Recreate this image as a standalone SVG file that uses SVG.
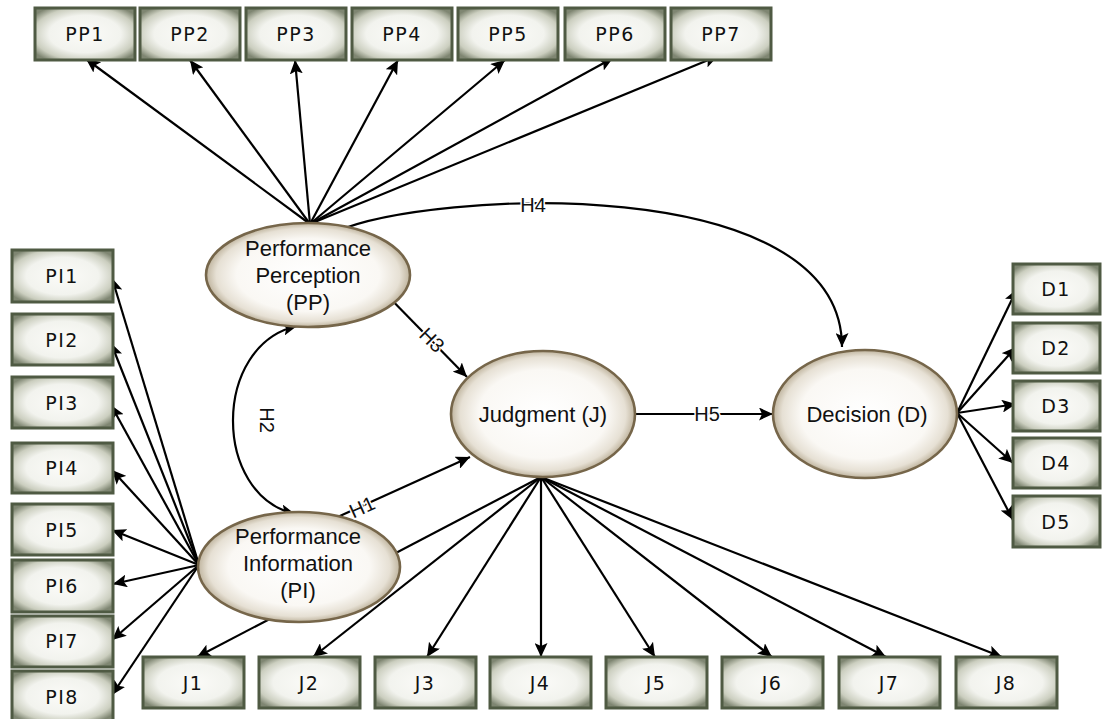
<svg xmlns="http://www.w3.org/2000/svg" width="1108" height="719" viewBox="0 0 1108 719">
<style>
.box{fill:url(#boxg);stroke:#4f5a43;stroke-width:3}
.bt{font-family:"DejaVu Sans",sans-serif;font-size:19px;fill:#111;text-anchor:middle;letter-spacing:1.5px}
.ell{fill:url(#ellg);stroke:#76664a;stroke-width:2.6}
.et{font-family:"Liberation Sans",Arial,sans-serif;font-size:22px;fill:#111;text-anchor:middle}
.ln{stroke:#000;stroke-width:2.2;fill:none;marker-end:url(#ah)}
.ht{font-family:"Liberation Sans",Arial,sans-serif;font-size:20px;fill:#111;text-anchor:middle;stroke:#fff;stroke-width:3;paint-order:stroke}
</style>
<defs>
<radialGradient id="boxg" cx="50%" cy="50%" r="62%">
<stop offset="0" stop-color="#fbfbf8"/>
<stop offset="0.58" stop-color="#f2f3ee"/>
<stop offset="0.83" stop-color="#cbcebf"/>
<stop offset="1" stop-color="#7f8672"/>
</radialGradient>
<radialGradient id="ellg" cx="50%" cy="50%" r="50%">
<stop offset="0" stop-color="#ffffff"/>
<stop offset="0.7" stop-color="#faf8f4"/>
<stop offset="0.9" stop-color="#e6e0d4"/>
<stop offset="1" stop-color="#bfb49e"/>
</radialGradient>
<marker id="ah" markerUnits="userSpaceOnUse" markerWidth="15" markerHeight="13" refX="14" refY="6.5" orient="auto-start-reverse">
<path d="M0,0 L14,6.5 L0,13 L3,6.5 z" fill="#000"/>
</marker>
</defs>

<g id="connectors">
<line class="ln" x1="310" y1="224" x2="86" y2="59"/>
<line class="ln" x1="310" y1="224" x2="190" y2="60"/>
<line class="ln" x1="310" y1="224" x2="295" y2="60"/>
<line class="ln" x1="310" y1="224" x2="398" y2="60"/>
<line class="ln" x1="310" y1="224" x2="505" y2="60"/>
<line class="ln" x1="310" y1="224" x2="613" y2="58"/>
<line class="ln" x1="310" y1="224" x2="718" y2="56"/>
<line class="ln" x1="199" y1="565" x2="112" y2="278"/>
<line class="ln" x1="199" y1="565" x2="111" y2="343"/>
<line class="ln" x1="199" y1="565" x2="111" y2="405"/>
<line class="ln" x1="199" y1="565" x2="112" y2="470"/>
<line class="ln" x1="199" y1="565" x2="112" y2="530"/>
<line class="ln" x1="199" y1="565" x2="113" y2="584"/>
<line class="ln" x1="199" y1="565" x2="112" y2="640"/>
<line class="ln" x1="199" y1="565" x2="112" y2="695"/>
<line class="ln" x1="541" y1="477" x2="197" y2="657"/>
<line class="ln" x1="541" y1="477" x2="313" y2="657"/>
<line class="ln" x1="541" y1="477" x2="427" y2="657"/>
<line class="ln" x1="541" y1="477" x2="541" y2="657"/>
<line class="ln" x1="541" y1="477" x2="655" y2="657"/>
<line class="ln" x1="541" y1="477" x2="772" y2="657"/>
<line class="ln" x1="541" y1="477" x2="886" y2="657"/>
<line class="ln" x1="541" y1="477" x2="1002" y2="657"/>
<line class="ln" x1="957" y1="413" x2="1017" y2="289"/>
<line class="ln" x1="957" y1="413" x2="1016" y2="347"/>
<line class="ln" x1="957" y1="413" x2="1016" y2="404"/>
<line class="ln" x1="957" y1="413" x2="1013" y2="463"/>
<line class="ln" x1="957" y1="413" x2="1013" y2="520"/>
<line class="ln" x1="320" y1="525" x2="470" y2="457"/>
<line class="ln" x1="380" y1="288" x2="467" y2="377"/>
<path class="ln" d="M297,326 C212,345 212,495 295,514" style="marker-start:url(#ah)"/>
<path class="ln" d="M335,232 C430,190 842,170 842,347"/>
<line class="ln" x1="635" y1="414" x2="773" y2="414"/>
</g>

<g id="node-PP"><ellipse class="ell" cx="308" cy="275" rx="102" ry="52"/>
<text class="et" x="308" y="256">Performance</text><text class="et" x="308" y="283">Perception</text><text class="et" x="308" y="310">(PP)</text></g>
<g id="node-PI"><ellipse class="ell" cx="299" cy="567" rx="101" ry="55"/>
<text class="et" x="298" y="544">Performance</text><text class="et" x="298" y="571">Information</text><text class="et" x="298" y="598">(PI)</text></g>
<g id="node-J"><ellipse class="ell" cx="543" cy="414" rx="92" ry="63"/>
<text class="et" x="543" y="422">Judgment (J)</text></g>
<g id="node-D"><ellipse class="ell" cx="865" cy="414" rx="92" ry="64"/>
<text class="et" x="867" y="422">Decision (D)</text></g>

<g id="labels">
<text class="ht" x="362" y="514" transform="rotate(-24.4 362 507)">H1</text>
<text class="ht" x="267" y="427" transform="rotate(90 267 420)">H2</text>
<text class="ht" x="432" y="347" transform="rotate(45 432 340)">H3</text>
<text class="ht" x="533" y="212">H4</text>
<text class="ht" x="707" y="421">H5</text>
</g>

<g id="node-PP1"><rect class="box" x="35" y="8" width="100" height="52"/><text class="bt" x="85" y="41">PP1</text></g>
<g id="node-PP2"><rect class="box" x="140" y="8" width="100" height="52"/><text class="bt" x="190" y="41">PP2</text></g>
<g id="node-PP3"><rect class="box" x="246" y="8" width="100" height="52"/><text class="bt" x="296" y="41">PP3</text></g>
<g id="node-PP4"><rect class="box" x="352" y="8" width="100" height="52"/><text class="bt" x="402" y="41">PP4</text></g>
<g id="node-PP5"><rect class="box" x="458" y="8" width="100" height="52"/><text class="bt" x="508" y="41">PP5</text></g>
<g id="node-PP6"><rect class="box" x="565" y="8" width="100" height="52"/><text class="bt" x="615" y="41">PP6</text></g>
<g id="node-PP7"><rect class="box" x="671" y="8" width="100" height="52"/><text class="bt" x="721" y="41">PP7</text></g>

<g id="node-PI1"><rect class="box" x="12" y="250" width="101" height="52"/><text class="bt" x="62" y="283">PI1</text></g>
<g id="node-PI2"><rect class="box" x="12" y="314" width="101" height="51"/><text class="bt" x="62" y="347">PI2</text></g>
<g id="node-PI3"><rect class="box" x="12" y="377" width="101" height="51"/><text class="bt" x="62" y="410">PI3</text></g>
<g id="node-PI4"><rect class="box" x="12" y="443" width="101" height="50"/><text class="bt" x="62" y="475">PI4</text></g>
<g id="node-PI5"><rect class="box" x="12" y="504" width="101" height="51"/><text class="bt" x="62" y="537">PI5</text></g>
<g id="node-PI6"><rect class="box" x="12" y="560" width="101" height="52"/><text class="bt" x="62" y="593">PI6</text></g>
<g id="node-PI7"><rect class="box" x="12" y="616" width="101" height="51"/><text class="bt" x="62" y="648">PI7</text></g>
<g id="node-PI8"><rect class="box" x="12" y="671" width="101" height="50"/><text class="bt" x="62" y="704">PI8</text></g>

<g id="node-J1"><rect class="box" x="143" y="657" width="101" height="51"/><text class="bt" x="193" y="690">J1</text></g>
<g id="node-J2"><rect class="box" x="259" y="657" width="101" height="51"/><text class="bt" x="309" y="690">J2</text></g>
<g id="node-J3"><rect class="box" x="375" y="657" width="101" height="51"/><text class="bt" x="425" y="690">J3</text></g>
<g id="node-J4"><rect class="box" x="490" y="657" width="101" height="51"/><text class="bt" x="540" y="690">J4</text></g>
<g id="node-J5"><rect class="box" x="606" y="657" width="101" height="51"/><text class="bt" x="656" y="690">J5</text></g>
<g id="node-J6"><rect class="box" x="722" y="657" width="101" height="51"/><text class="bt" x="772" y="690">J6</text></g>
<g id="node-J7"><rect class="box" x="839" y="657" width="101" height="51"/><text class="bt" x="889" y="690">J7</text></g>
<g id="node-J8"><rect class="box" x="956" y="657" width="101" height="51"/><text class="bt" x="1006" y="690">J8</text></g>

<g id="node-D1"><rect class="box" x="1013" y="264" width="87" height="50"/><text class="bt" x="1056" y="296">D1</text></g>
<g id="node-D2"><rect class="box" x="1013" y="323" width="87" height="50"/><text class="bt" x="1056" y="355">D2</text></g>
<g id="node-D3"><rect class="box" x="1013" y="381" width="87" height="50"/><text class="bt" x="1056" y="413">D3</text></g>
<g id="node-D4"><rect class="box" x="1013" y="438" width="87" height="50"/><text class="bt" x="1056" y="470">D4</text></g>
<g id="node-D5"><rect class="box" x="1013" y="496" width="87" height="51"/><text class="bt" x="1056" y="529">D5</text></g>
</svg>
